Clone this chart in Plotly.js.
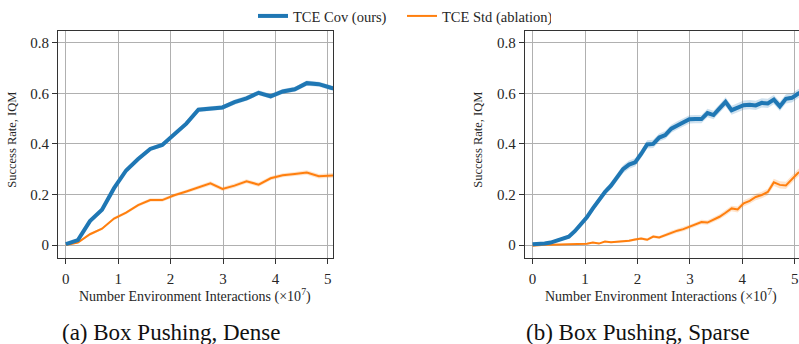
<!DOCTYPE html>
<html>
<head>
<meta charset="utf-8">
<script src="https://cdn.plot.ly/plotly-3.0.1.min.js"></script>
<style>html,body{margin:0;padding:0;background:#fff;}#chart{width:799px;height:344px;}</style>
</head>
<body>
<div id="chart"></div>
<script>
// ---- Data (x in units of 1e7 environment interactions) ----
const denseX = [0,0.23,0.46,0.69,0.92,1.15,1.38,1.61,1.84,2.07,2.30,2.53,2.76,2.99,3.22,3.45,3.68,3.91,4.14,4.37,4.60,4.83,5.06,5.29];
const denseCov = [0.004,0.02,0.095,0.14,0.225,0.295,0.34,0.38,0.396,0.44,0.48,0.535,0.54,0.544,0.565,0.58,0.602,0.588,0.607,0.616,0.640,0.636,0.622,0.61];
const denseCovCI = [0.004,0.005,0.006,0.006,0.007,0.008,0.008,0.008,0.008,0.009,0.009,0.009,0.009,0.009,0.01,0.01,0.01,0.01,0.01,0.01,0.01,0.01,0.01,0.01];
const denseStd = [0.0,0.01,0.043,0.065,0.105,0.128,0.158,0.178,0.178,0.197,0.212,0.228,0.244,0.222,0.235,0.252,0.239,0.264,0.276,0.281,0.287,0.272,0.276,0.278];
const denseStdCI = [0.003,0.004,0.005,0.005,0.006,0.006,0.006,0.007,0.007,0.007,0.007,0.008,0.008,0.008,0.008,0.008,0.008,0.008,0.008,0.008,0.009,0.009,0.009,0.009];

const sparseX = [0,0.115,0.23,0.345,0.46,0.575,0.69,0.805,0.92,1.035,1.15,1.265,1.38,1.495,1.61,1.725,1.84,1.955,2.07,2.185,2.30,2.415,2.53,2.645,2.76,2.875,2.99,3.105,3.22,3.335,3.45,3.565,3.68,3.795,3.91,4.025,4.14,4.255,4.37,4.485,4.60,4.715,4.83,4.945,5.06,5.175];
const sparseCov = [0.003,0.004,0.006,0.010,0.018,0.027,0.033,0.055,0.08,0.11,0.145,0.18,0.21,0.235,0.27,0.30,0.318,0.327,0.36,0.398,0.40,0.425,0.435,0.46,0.473,0.485,0.497,0.498,0.498,0.522,0.514,0.54,0.566,0.533,0.543,0.553,0.555,0.552,0.562,0.560,0.575,0.548,0.578,0.582,0.598,0.61];
const sparseCovCI = [0.006,0.005,0.005,0.005,0.006,0.007,0.008,0.009,0.01,0.01,0.011,0.012,0.013,0.014,0.015,0.016,0.016,0.016,0.016,0.016,0.016,0.016,0.016,0.016,0.016,0.016,0.016,0.016,0.016,0.017,0.017,0.017,0.018,0.018,0.018,0.018,0.018,0.018,0.018,0.018,0.018,0.018,0.018,0.018,0.018,0.018];
const sparseStd = [-0.003,0.0,0.001,0.001,0.002,0.002,0.003,0.003,0.004,0.005,0.010,0.006,0.014,0.011,0.013,0.015,0.017,0.022,0.026,0.021,0.034,0.030,0.040,0.050,0.057,0.063,0.072,0.080,0.091,0.089,0.100,0.112,0.128,0.145,0.141,0.165,0.175,0.190,0.198,0.210,0.248,0.238,0.236,0.262,0.285,0.30];
const sparseStdCI = [0.002,0.002,0.002,0.002,0.002,0.002,0.002,0.002,0.002,0.003,0.003,0.003,0.003,0.004,0.004,0.004,0.005,0.005,0.005,0.006,0.006,0.006,0.007,0.007,0.008,0.008,0.008,0.009,0.009,0.009,0.010,0.010,0.011,0.011,0.012,0.012,0.012,0.013,0.013,0.013,0.014,0.014,0.014,0.015,0.015,0.015];

const seriesNames = ["TCE Cov (ours)", "TCE Std (ablation)"];
const xTicks = [0,1,2,3,4,5];
const yTicks = [0,0.2,0.4,0.6,0.8];
const yTickText = ["0","0.2","0.4","0.6","0.8"];
const captions = ["(a) Box Pushing, Dense", "(b) Box Pushing, Sparse"];
const xTitle = "Number Environment Interactions (×10<sup>7</sup>)";
const yTitle = "Success Rate, IQM";

const BLUE = "#1f77b4", ORANGE = "#ff7f0e";
const BLUE_FILL = "rgba(31,119,180,0.22)", ORANGE_FILL = "rgba(255,127,14,0.22)";
const FONT = "Liberation Serif";
const TXT = "#262626";

function band(x, y, ci, fill, xa, ya) {
  const up = y.map((v,i)=>v+ci[i]);
  const lo = y.map((v,i)=>v-ci[i]);
  return [
    {x:x, y:lo, xaxis:xa, yaxis:ya, mode:"lines", line:{width:0,color:fill}, showlegend:false, hoverinfo:"skip"},
    {x:x, y:up, xaxis:xa, yaxis:ya, mode:"lines", line:{width:0,color:fill}, fill:"tonexty", fillcolor:fill, showlegend:false, hoverinfo:"skip"}
  ];
}

const traces = [].concat(
  band(denseX, denseStd, denseStdCI, ORANGE_FILL, "x", "y"),
  band(denseX, denseCov, denseCovCI, BLUE_FILL, "x", "y"),
  band(sparseX, sparseStd, sparseStdCI, ORANGE_FILL, "x2", "y2"),
  band(sparseX, sparseCov, sparseCovCI, BLUE_FILL, "x2", "y2"),
  [
    {x:denseX, y:denseStd, xaxis:"x", yaxis:"y", mode:"lines", line:{color:ORANGE,width:2}, name:seriesNames[1], legendrank:2, showlegend:true},
    {x:denseX, y:denseCov, xaxis:"x", yaxis:"y", mode:"lines", line:{color:BLUE,width:4}, name:seriesNames[0], legendrank:1, showlegend:true},
    {x:sparseX, y:sparseStd, xaxis:"x2", yaxis:"y2", mode:"lines", line:{color:ORANGE,width:2}, name:seriesNames[1], showlegend:false},
    {x:sparseX, y:sparseCov, xaxis:"x2", yaxis:"y2", mode:"lines", line:{color:BLUE,width:4}, name:seriesNames[0], showlegend:false}
  ]
);

function xaxis(domain, range, anchor) {
  return {domain:domain, range:range, anchor:anchor, tickvals:xTicks, ticks:"outside", ticklen:5, tickcolor:"#333",
    showline:true, mirror:true, linecolor:"#333", linewidth:1, showgrid:true, gridcolor:"#b0b0b0", gridwidth:1,
    zeroline:false, tickfont:{family:FONT,size:15,color:TXT}, ticklabelstandoff:2};
}
function yaxis(domain, anchor) {
  return {domain:domain, range:[-0.05,0.847], anchor:anchor, tickvals:yTicks, ticktext:yTickText, ticks:"outside", ticklen:5, tickcolor:"#333",
    showline:true, mirror:true, linecolor:"#333", linewidth:1, showgrid:true, gridcolor:"#b0b0b0", gridwidth:1,
    zeroline:false, tickfont:{family:FONT,size:15,color:TXT}};
}

function px(v){ return v/799; }
function py(v){ return 1 - v/344; }

const yDom = [py(257), py(28)];
const layout = {
  width:799, height:344,
  margin:{l:0,r:0,t:0,b:0},
  paper_bgcolor:"#fff", plot_bgcolor:"#fff",
  showlegend:true,
  legend:{orientation:"h", x:px(253), xanchor:"left", y:py(13), yanchor:"middle",
    font:{family:FONT,size:14.5,color:TXT}, traceorder:"normal", itemwidth:30,
    entrywidth:104, entrywidthmode:"pixels", bgcolor:"rgba(0,0,0,0)"},
  xaxis: xaxis([px(58), px(333)], [-0.15,5.1], "y"),
  yaxis: yaxis(yDom, "x"),
  xaxis2: xaxis([px(524.7), 1.0], [-0.15,5.08], "y2"),
  yaxis2: yaxis(yDom, "x2"),
  annotations:[
    {text:xTitle, xref:"paper", yref:"paper", x:px(195), y:py(295), xanchor:"center", yanchor:"middle", showarrow:false, font:{family:FONT,size:14,color:TXT}},
    {text:xTitle, xref:"paper", yref:"paper", x:px(661), y:py(295), xanchor:"center", yanchor:"middle", showarrow:false, font:{family:FONT,size:14,color:TXT}},
    {text:yTitle, xref:"paper", yref:"paper", x:px(12.5), y:py(138.5), xanchor:"center", yanchor:"middle", textangle:-90, showarrow:false, font:{family:FONT,size:12.5,color:TXT}},
    {text:yTitle, xref:"paper", yref:"paper", x:px(478.5), y:py(138.5), xanchor:"center", yanchor:"middle", textangle:-90, showarrow:false, font:{family:FONT,size:12.5,color:TXT}},
    {text:captions[0], xref:"paper", yref:"paper", x:px(171), y:py(332), xanchor:"center", yanchor:"middle", showarrow:false, font:{family:FONT,size:23,color:"#111"}},
    {text:captions[1], xref:"paper", yref:"paper", x:px(638), y:py(332), xanchor:"center", yanchor:"middle", showarrow:false, font:{family:FONT,size:23,color:"#111"}}
  ]
};

Plotly.newPlot("chart", traces, layout, {displayModeBar:false, staticPlot:true});
</script>
</body>
</html>
